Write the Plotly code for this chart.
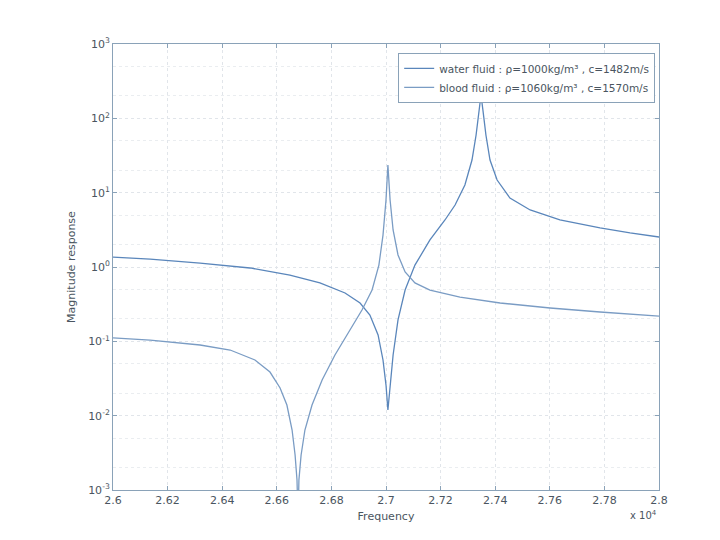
import plotly.graph_objects as go

# Frequency (Hz) and magnitude readings for each curve
freq_a = [26000, 26136, 26319, 26502, 26648, 26758, 26850, 26905, 26941, 26971, 26989, 27000,
          27007, 27015, 27026, 27044, 27070, 27106, 27161, 27216, 27253, 27289, 27315, 27330,
          27341, 27348, 27355, 27366, 27381, 27407, 27454, 27528, 27637, 27784, 27894, 28000]
mag_a = [1.36, 1.28, 1.13, 0.97, 0.78, 0.61, 0.447, 0.328, 0.226, 0.122, 0.0561, 0.0258,
         0.0119, 0.0258, 0.0655, 0.194, 0.49, 1.06, 2.31, 4.29, 6.82, 12.7, 27.5, 59.7,
         129, 206, 129, 59.7, 27.5, 14.8, 8.47, 5.85, 4.29, 3.35, 2.87, 2.53]

freq_b = [26000, 26136, 26319, 26429, 26520, 26575, 26612, 26637, 26656, 26667, 26674, 26678,
          26681, 26689, 26703, 26729, 26766, 26813, 26868, 26912, 26949, 26974, 26989, 27000,
          27007, 27015, 27026, 27044, 27070, 27106, 27161, 27271, 27418, 27601, 27784, 28000]
mag_b = [0.111, 0.104, 0.0893, 0.0764, 0.0561, 0.0386, 0.0236, 0.0139, 0.00641, 0.00296, 0.00136, 0.000394,
         0.00136, 0.00296, 0.00641, 0.0139, 0.0302, 0.0655, 0.142, 0.264, 0.49, 1.06, 2.69, 7.96,
         23.6, 7.96, 3.15, 1.45, 0.857, 0.61, 0.49, 0.394, 0.328, 0.281, 0.248, 0.219]

name_a = "water fluid : ρ=1000kg/m³ , c=1482m/s"
name_b = "blood fluid : ρ=1060kg/m³ , c=1570m/s"

x_tickvals = [26000, 26200, 26400, 26600, 26800, 27000, 27200, 27400, 27600, 27800, 28000]
x_ticktext = ["2.6", "2.62", "2.64", "2.66", "2.68", "2.7", "2.72", "2.74", "2.76", "2.78", "2.8"]
y_tickvals = [1e-3, 1e-2, 1e-1, 1e0, 1e1, 1e2, 1e3]
y_ticktext = ["10<sup>-3</sup>", "10<sup>-2</sup>", "10<sup>-1</sup>", "10<sup>0</sup>",
              "10<sup>1</sup>", "10<sup>2</sup>", "10<sup>3</sup>"]

axis_col = "#8aa2b8"
text_col = "#4a5560"
grid_col = "#e1e5ea"

fig = go.Figure()
fig.add_trace(go.Scatter(x=freq_a, y=mag_a, mode="lines", name=name_a,
                         line=dict(color="#5a86bb", width=1.3)))
fig.add_trace(go.Scatter(x=freq_b, y=mag_b, mode="lines", name=name_b,
                         line=dict(color="#7a9cc4", width=1.3)))

fig.update_layout(
    width=712, height=532,
    margin=dict(l=105, r=61, t=36, b=50),
    paper_bgcolor="white", plot_bgcolor="white",
    font=dict(family="DejaVu Sans", size=11, color=text_col),
    showlegend=True,
    legend=dict(x=0.993, y=0.98, xanchor="right", yanchor="top",
                bgcolor="white", bordercolor=axis_col, borderwidth=1,
                itemwidth=30, font=dict(size=10.5, color=text_col), tracegroupgap=0),
    xaxis=dict(range=[26000, 28000], tickvals=x_tickvals, ticktext=x_ticktext,
               showgrid=True, gridcolor=grid_col, griddash="dot",
               showline=True, linecolor=axis_col, mirror="ticks",
               ticks="inside", ticklen=4, tickcolor=axis_col, zeroline=False,
               title=dict(text="Frequency", font=dict(size=11), standoff=6)),
    yaxis=dict(type="log", range=[-3, 3], tickvals=y_tickvals, ticktext=y_ticktext,
               showgrid=True, gridcolor=grid_col, griddash="dot",
               minor=dict(showgrid=True, gridcolor="#eaedf0", ticks=""),
               showline=True, linecolor=axis_col, mirror="ticks",
               ticks="inside", ticklen=4, tickcolor=axis_col, zeroline=False,
               title=dict(text="Magnitude response", font=dict(size=11), standoff=10)),
)

fig.add_annotation(text="x 10<sup>4</sup>", xref="paper", yref="paper", x=1.0, y=-0.056,
                   xanchor="right", yanchor="middle", showarrow=False, font=dict(size=10))

fig.write_html("out.html")
